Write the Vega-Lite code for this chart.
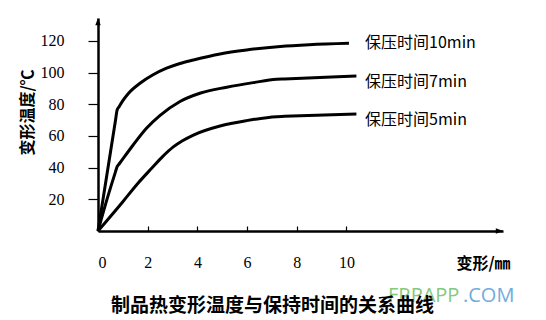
{
  "$schema": "https://vega.github.io/schema/vega-lite/v6.json",
  "width": 405,
  "height": 213,
  "autosize": "none",
  "padding": {"left": 98, "top": 18, "right": 43, "bottom": 89},
  "background": "white",
  "config": {"view": {"stroke": null}},
  "title": {
    "text": "制品热变形温度与保持时间的关系曲线",
    "orient": "bottom",
    "anchor": "middle",
    "frame": "group",
    "dx": -28,
    "offset": -9,
    "font": "Noto Sans CJK SC",
    "fontSize": 19,
    "fontWeight": "bold",
    "color": "black"
  },
  "datasets": {
    "curves": [
      {"series": "10min", "x": 0, "y": 0},
      {"series": "10min", "x": 0.7, "y": 69.5},
      {"series": "10min", "x": 0.77, "y": 76.4},
      {"series": "10min", "x": 0.85, "y": 78.5},
      {"series": "10min", "x": 1.0, "y": 82.3},
      {"series": "10min", "x": 1.23, "y": 87},
      {"series": "10min", "x": 1.69, "y": 93.3},
      {"series": "10min", "x": 2.2, "y": 98.5},
      {"series": "10min", "x": 2.76, "y": 102.8},
      {"series": "10min", "x": 3.3, "y": 105.8},
      {"series": "10min", "x": 3.84, "y": 108},
      {"series": "10min", "x": 4.91, "y": 111.8},
      {"series": "10min", "x": 5.98, "y": 114.3},
      {"series": "10min", "x": 7.34, "y": 116.5},
      {"series": "10min", "x": 8.5, "y": 117.6},
      {"series": "10min", "x": 10.1, "y": 118.5},
      {"series": "7min", "x": 0, "y": 0},
      {"series": "7min", "x": 0.4, "y": 22},
      {"series": "7min", "x": 0.7, "y": 37.2},
      {"series": "7min", "x": 0.77, "y": 40.6},
      {"series": "7min", "x": 0.85, "y": 42.3},
      {"series": "7min", "x": 1.4, "y": 54},
      {"series": "7min", "x": 1.96, "y": 65},
      {"series": "7min", "x": 2.5, "y": 73},
      {"series": "7min", "x": 3.3, "y": 81.8},
      {"series": "7min", "x": 4.1, "y": 87},
      {"series": "7min", "x": 5.18, "y": 90.8},
      {"series": "7min", "x": 6.25, "y": 93.7},
      {"series": "7min", "x": 7.19, "y": 95.8},
      {"series": "7min", "x": 7.5, "y": 96.0},
      {"series": "7min", "x": 10.4, "y": 97.9},
      {"series": "5min", "x": 0, "y": 0},
      {"series": "5min", "x": 1.0, "y": 18.5},
      {"series": "5min", "x": 1.6, "y": 30},
      {"series": "5min", "x": 2.16, "y": 39.6},
      {"series": "5min", "x": 2.6, "y": 47},
      {"series": "5min", "x": 3.03, "y": 53.1},
      {"series": "5min", "x": 3.4, "y": 57},
      {"series": "5min", "x": 3.84, "y": 60.6},
      {"series": "5min", "x": 4.91, "y": 66.3},
      {"series": "5min", "x": 5.98, "y": 69.7},
      {"series": "5min", "x": 7.19, "y": 72.2},
      {"series": "5min", "x": 7.5, "y": 72.4},
      {"series": "5min", "x": 10.4, "y": 73.9}
    ],
    "labels": [
      {"label": "保压时间10min", "x": 10.75, "y": 118.6},
      {"label": "保压时间7min", "x": 10.75, "y": 94.3},
      {"label": "保压时间5min", "x": 10.75, "y": 70.1}
    ]
  },
  "layer": [
    {
      "data": {"name": "curves"},
      "mark": {"type": "line", "color": "black", "strokeWidth": 3, "clip": false, "interpolate": "monotone"},
      "encoding": {
        "x": {
          "field": "x",
          "type": "quantitative",
          "scale": {"domain": [0, 16.3], "nice": false, "zero": false},
          "axis": {
            "values": [0, 2, 4, 6, 8, 10],
            "grid": false,
            "domainColor": "black",
            "domainWidth": 2.5,
            "tickColor": "black",
            "tickWidth": 1.2,
            "tickSize": -5,
            "labelFont": "Liberation Serif",
            "labelFontSize": 16,
            "labelColor": "black",
            "labelPadding": 36,
            "labelBaseline": "middle",
            "title": "变形/㎜",
            "titleFont": "Noto Sans CJK SC",
            "titleFontSize": 16,
            "titleFontWeight": "bold",
            "titleColor": "black",
            "titleX": 385,
            "titleY": 32,
            "titleAlign": "center",
            "titleBaseline": "middle"
          }
        },
        "y": {
          "field": "y",
          "type": "quantitative",
          "scale": {"domain": [0, 134.5], "nice": false, "zero": false},
          "axis": {
            "values": [20, 40, 60, 80, 100, 120],
            "grid": false,
            "domainColor": "black",
            "domainWidth": 2.5,
            "tickColor": "black",
            "tickWidth": 1.2,
            "tickSize": 10,
            "labelFont": "Liberation Serif",
            "labelFontSize": 16,
            "labelColor": "black",
            "labelPadding": 24,
            "title": "变形温度/℃",
            "titleFont": "Noto Sans CJK SC",
            "titleFontSize": 16,
            "titleFontWeight": "bold",
            "titleColor": "black",
            "titleAngle": -90,
            "titleX": -71,
            "titleY": 94,
            "titleAlign": "center",
            "titleBaseline": "middle"
          }
        },
        "detail": {"field": "series", "type": "nominal"}
      }
    },
    {
      "data": {"name": "labels"},
      "mark": {"type": "text", "align": "left", "baseline": "middle", "font": "Noto Sans CJK SC", "fontSize": 16, "color": "black"},
      "encoding": {
        "x": {"field": "x", "type": "quantitative"},
        "y": {"field": "y", "type": "quantitative"},
        "text": {"field": "label"}
      }
    },
    {
      "data": {"values": [{}]},
      "mark": {"type": "point", "shape": "M0,-1L0.6,0.6L-0.6,0.6Z", "filled": true, "color": "black", "opacity": 1, "size": 81},
      "encoding": {"x": {"datum": 0}, "y": {"datum": 131.7}}
    },
    {
      "data": {"values": [{}]},
      "mark": {"type": "point", "shape": "M1,0L-0.6,0.6L-0.6,-0.6Z", "filled": true, "color": "black", "opacity": 1, "size": 81},
      "encoding": {"x": {"datum": 16.12}, "y": {"datum": 0}}
    },
    {
      "data": {"values": [{}]},
      "mark": {"type": "text", "align": "left", "baseline": "middle", "font": "Open Sans", "fontSize": 20, "color": "#78c46e", "opacity": 0.9},
      "encoding": {"x": {"datum": 11.67}, "y": {"datum": -41}, "text": {"value": "FRPAPP"}}
    },
    {
      "data": {"values": [{}]},
      "mark": {"type": "text", "align": "left", "baseline": "middle", "font": "Open Sans", "fontSize": 20, "color": "#62a4d8", "opacity": 0.9},
      "encoding": {"x": {"datum": 14.69}, "y": {"datum": -41}, "text": {"value": ".COM"}}
    }
  ]
}
